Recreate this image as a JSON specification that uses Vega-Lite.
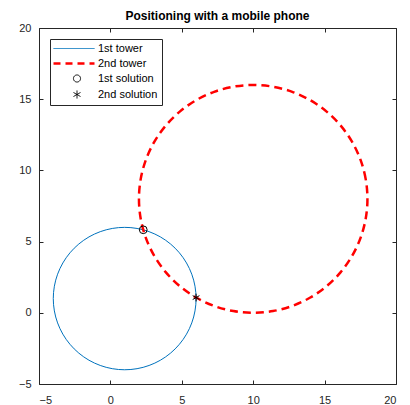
{
  "$schema": "https://vega.github.io/schema/vega-lite/v6.json",
  "autosize": "none",
  "width": 357,
  "height": 356,
  "padding": {"left": 39, "top": 28, "right": 14, "bottom": 21},
  "background": "white",
  "title": {
    "text": "Positioning with a mobile phone",
    "font": "Liberation Sans",
    "fontSize": 12,
    "fontWeight": "bold",
    "color": "#000000",
    "anchor": "middle",
    "offset": -1
  },
  "config": {
    "view": {"stroke": "#262626", "strokeWidth": 1},
    "axis": {
      "labelFont": "Liberation Sans",
      "labelFontSize": 11,
      "labelColor": "#262626",
      "tickColor": "#262626",
      "tickSize": -4,
      "domain": false,
      "grid": false,
      "title": null
    },
    "legend": {
      "labelFont": "Liberation Sans",
      "labelFontSize": 11,
      "labelColor": "#000000",
      "labelOffset": 4,
      "padding": 4,
      "rowPadding": 3,
      "strokeColor": "#262626",
      "fillColor": "white",
      "cornerRadius": 0
    }
  },
  "resolve": {"axis": {"x": "independent", "y": "independent"}},
  "datasets": {
    "towers": [
      {"series": "1st tower", "i": 0, "x": 6, "y": 1},
      {"series": "1st tower", "i": 1, "x": 5.924, "y": 1.868},
      {"series": "1st tower", "i": 2, "x": 5.698, "y": 2.71},
      {"series": "1st tower", "i": 3, "x": 5.33, "y": 3.5},
      {"series": "1st tower", "i": 4, "x": 4.83, "y": 4.214},
      {"series": "1st tower", "i": 5, "x": 4.214, "y": 4.83},
      {"series": "1st tower", "i": 6, "x": 3.5, "y": 5.33},
      {"series": "1st tower", "i": 7, "x": 2.71, "y": 5.698},
      {"series": "1st tower", "i": 8, "x": 1.868, "y": 5.924},
      {"series": "1st tower", "i": 9, "x": 1, "y": 6},
      {"series": "1st tower", "i": 10, "x": 0.132, "y": 5.924},
      {"series": "1st tower", "i": 11, "x": -0.71, "y": 5.698},
      {"series": "1st tower", "i": 12, "x": -1.5, "y": 5.33},
      {"series": "1st tower", "i": 13, "x": -2.214, "y": 4.83},
      {"series": "1st tower", "i": 14, "x": -2.83, "y": 4.214},
      {"series": "1st tower", "i": 15, "x": -3.33, "y": 3.5},
      {"series": "1st tower", "i": 16, "x": -3.698, "y": 2.71},
      {"series": "1st tower", "i": 17, "x": -3.924, "y": 1.868},
      {"series": "1st tower", "i": 18, "x": -4, "y": 1},
      {"series": "1st tower", "i": 19, "x": -3.924, "y": 0.132},
      {"series": "1st tower", "i": 20, "x": -3.698, "y": -0.71},
      {"series": "1st tower", "i": 21, "x": -3.33, "y": -1.5},
      {"series": "1st tower", "i": 22, "x": -2.83, "y": -2.214},
      {"series": "1st tower", "i": 23, "x": -2.214, "y": -2.83},
      {"series": "1st tower", "i": 24, "x": -1.5, "y": -3.33},
      {"series": "1st tower", "i": 25, "x": -0.71, "y": -3.698},
      {"series": "1st tower", "i": 26, "x": 0.132, "y": -3.924},
      {"series": "1st tower", "i": 27, "x": 1, "y": -4},
      {"series": "1st tower", "i": 28, "x": 1.868, "y": -3.924},
      {"series": "1st tower", "i": 29, "x": 2.71, "y": -3.698},
      {"series": "1st tower", "i": 30, "x": 3.5, "y": -3.33},
      {"series": "1st tower", "i": 31, "x": 4.214, "y": -2.83},
      {"series": "1st tower", "i": 32, "x": 4.83, "y": -2.214},
      {"series": "1st tower", "i": 33, "x": 5.33, "y": -1.5},
      {"series": "1st tower", "i": 34, "x": 5.698, "y": -0.71},
      {"series": "1st tower", "i": 35, "x": 5.924, "y": 0.132},
      {"series": "2nd tower", "i": 0, "x": 18, "y": 8},
      {"series": "2nd tower", "i": 1, "x": 17.878, "y": 9.389},
      {"series": "2nd tower", "i": 2, "x": 17.518, "y": 10.736},
      {"series": "2nd tower", "i": 3, "x": 16.928, "y": 12},
      {"series": "2nd tower", "i": 4, "x": 16.128, "y": 13.142},
      {"series": "2nd tower", "i": 5, "x": 15.142, "y": 14.128},
      {"series": "2nd tower", "i": 6, "x": 14, "y": 14.928},
      {"series": "2nd tower", "i": 7, "x": 12.736, "y": 15.518},
      {"series": "2nd tower", "i": 8, "x": 11.389, "y": 15.878},
      {"series": "2nd tower", "i": 9, "x": 10, "y": 16},
      {"series": "2nd tower", "i": 10, "x": 8.611, "y": 15.878},
      {"series": "2nd tower", "i": 11, "x": 7.264, "y": 15.518},
      {"series": "2nd tower", "i": 12, "x": 6, "y": 14.928},
      {"series": "2nd tower", "i": 13, "x": 4.858, "y": 14.128},
      {"series": "2nd tower", "i": 14, "x": 3.872, "y": 13.142},
      {"series": "2nd tower", "i": 15, "x": 3.072, "y": 12},
      {"series": "2nd tower", "i": 16, "x": 2.482, "y": 10.736},
      {"series": "2nd tower", "i": 17, "x": 2.122, "y": 9.389},
      {"series": "2nd tower", "i": 18, "x": 2, "y": 8},
      {"series": "2nd tower", "i": 19, "x": 2.122, "y": 6.611},
      {"series": "2nd tower", "i": 20, "x": 2.482, "y": 5.264},
      {"series": "2nd tower", "i": 21, "x": 3.072, "y": 4},
      {"series": "2nd tower", "i": 22, "x": 3.872, "y": 2.858},
      {"series": "2nd tower", "i": 23, "x": 4.858, "y": 1.872},
      {"series": "2nd tower", "i": 24, "x": 6, "y": 1.072},
      {"series": "2nd tower", "i": 25, "x": 7.264, "y": 0.482},
      {"series": "2nd tower", "i": 26, "x": 8.611, "y": 0.122},
      {"series": "2nd tower", "i": 27, "x": 10, "y": 0},
      {"series": "2nd tower", "i": 28, "x": 11.389, "y": 0.122},
      {"series": "2nd tower", "i": 29, "x": 12.736, "y": 0.482},
      {"series": "2nd tower", "i": 30, "x": 14, "y": 1.072},
      {"series": "2nd tower", "i": 31, "x": 15.142, "y": 1.872},
      {"series": "2nd tower", "i": 32, "x": 16.128, "y": 2.858},
      {"series": "2nd tower", "i": 33, "x": 16.928, "y": 4},
      {"series": "2nd tower", "i": 34, "x": 17.518, "y": 5.264},
      {"series": "2nd tower", "i": 35, "x": 17.878, "y": 6.611}
    ],
    "solutions": [
      {"series": "1st solution", "x": 2.3, "y": 5.83},
      {"series": "2nd solution", "x": 6.0, "y": 1.07}
    ]
  },
  "layer": [
    {
      "data": {"name": "towers"},
      "transform": [{"filter": "datum.series === '1st tower'"}],
      "mark": {"type": "line", "interpolate": "cardinal-closed", "strokeWidth": 1, "clip": true},
      "encoding": {
        "x": {"field": "x", "type": "quantitative", "scale": {"domain": [-5, 20], "nice": false}, "axis": {"values": [-5, 0, 5, 10, 15, 20], "labelPadding": 14}},
        "y": {"field": "y", "type": "quantitative", "scale": {"domain": [-5, 20], "nice": false}, "axis": {"values": [-5, 0, 5, 10, 15, 20], "labelPadding": 12}},
        "order": {"field": "i", "type": "quantitative"},
        "color": {
          "field": "series",
          "type": "nominal",
          "scale": {
            "domain": ["1st tower", "2nd tower", "1st solution", "2nd solution"],
            "range": ["#0072BD", "#FF0000", "#000000", "#000000"]
          },
          "legend": {
            "title": null,
            "orient": "top-left",
            "offset": 11,
            "symbolType": "stroke",
            "encode": {
              "symbols": {
                "update": {
                  "x": {"signal": "datum.value === '1st solution' || datum.value === '2nd solution' ? 23 : 20"},
                  "shape": {"signal": "datum.value === '1st solution' ? 'circle' : datum.value === '2nd solution' ? 'M0,-1L0,1M-0.87,-0.5L0.87,0.5M-0.87,0.5L0.87,-0.5' : 'stroke'"},
                  "size": {"signal": "datum.value === '1st solution' ? 50 : datum.value === '2nd solution' ? 64 : 1681"},
                  "stroke": {"scale": "color", "field": "value"},
                  "strokeDash": {"signal": "datum.value === '2nd tower' ? [7, 5] : [1, 0]"},
                  "strokeWidth": {"signal": "datum.value === '2nd tower' ? 2.5 : 1"},
                  "fill": {"value": "transparent"},
                  "opacity": {"value": 1}
                }
              },
              "labels": {
                "update": {
                  "x": {"value": 44}
                }
              }
            }
          }
        }
      }
    },
    {
      "data": {"name": "towers"},
      "transform": [{"filter": "datum.series === '2nd tower'"}],
      "mark": {"type": "line", "interpolate": "cardinal-closed", "strokeWidth": 2.5, "strokeDash": [8, 5], "clip": true},
      "encoding": {
        "x": {"field": "x", "type": "quantitative", "axis": null},
        "y": {"field": "y", "type": "quantitative", "axis": null},
        "order": {"field": "i", "type": "quantitative"},
        "color": {"field": "series", "type": "nominal"}
      }
    },
    {
      "data": {"name": "solutions"},
      "mark": {"type": "point", "filled": false, "strokeWidth": 1, "stroke": "#000000", "opacity": 1},
      "encoding": {
        "x": {"field": "x", "type": "quantitative", "axis": {"orient": "top", "labels": false, "values": [-5, 0, 5, 10, 15, 20]}},
        "y": {"field": "y", "type": "quantitative", "axis": {"orient": "right", "labels": false, "values": [-5, 0, 5, 10, 15, 20]}},
        "shape": {
          "field": "series",
          "type": "nominal",
          "scale": {
            "domain": ["1st solution", "2nd solution"],
            "range": ["circle", "M0,-1L0,1M-0.87,-0.5L0.87,0.5M-0.87,0.5L0.87,-0.5"]
          },
          "legend": null
        },
        "size": {"value": 60}
      }
    }
  ]
}
